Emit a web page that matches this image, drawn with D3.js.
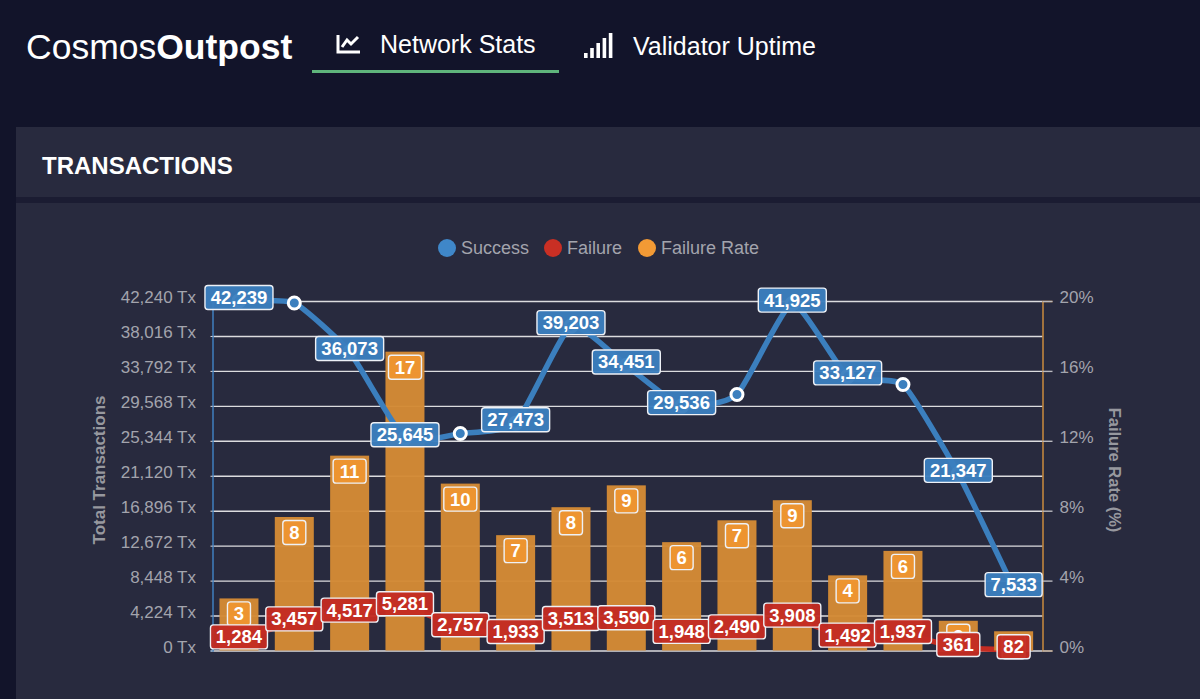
<!DOCTYPE html>
<html>
<head>
<meta charset="utf-8">
<title>Cosmos Outpost</title>
<script src="https://cdn.jsdelivr.net/npm/d3@7"></script>
<style>
  html, body { margin: 0; padding: 0; background: #12142a; overflow: hidden; }
  svg { display: block; font-family: "Liberation Sans", Arial, sans-serif; }
</style>
</head>
<body>
<script>
// values
var slots = d3.range(15);
var success = [42239, 41999, 36073, 25645, 26226, 27473, 39203, 34451, 29536, 30940, 41925, 33127, 32150, 21347, 7533];
var failure = [1284, 3457, 4517, 5281, 2757, 1933, 3513, 3590, 1948, 2490, 3908, 1492, 1937, 361, 82];
var failureRate = [2.98, 7.64, 11.15, 17.1, 9.55, 6.6, 8.2, 9.45, 6.2, 7.45, 8.6, 4.3, 5.7, 1.7, 1.1];
var hiddenLabels = [1, 4, 9, 12];   // these points have no label in the chart
var txTicks = [0, 4224, 8448, 12672, 16896, 21120, 25344, 29568, 33792, 38016, 42240];
var rateTicks = [0, 4, 8, 12, 16, 20];
var legendNames = ["Success", "Failure", "Failure Rate"];

var w = 1200, h = 699;
var left = 212.5, right = 1042.5, top_ = 301, bottom = 650.5;

var blue = "#3b7fbe", red = "#c42c22", orange = "#d48a35", orangeLabel = "#ee9530";

var svg = d3.select("body").append("svg")
  .attr("width", w)
  .attr("height", h);

// page panels
svg.append("rect").attr("width", w).attr("height", h).attr("fill", "#12142a");
svg.append("rect").attr("x", 16).attr("y", 127).attr("width", w - 16).attr("height", 70).attr("fill", "#282a3e");
svg.append("rect").attr("x", 16).attr("y", 197).attr("width", w - 16).attr("height", 6).attr("fill", "#1b1c32");
svg.append("rect").attr("x", 16).attr("y", 203).attr("width", w - 16).attr("height", h - 203).attr("fill", "#282a3e");

// header
var brand = svg.append("text").attr("x", 26).attr("y", 59)
  .attr("fill", "#fff").attr("font-size", 35.5);
brand.append("tspan").text("Cosmos");
brand.append("tspan").text("Outpost").attr("font-weight", "bold");

svg.append("text").text("Network Stats").attr("x", 380).attr("y", 53)
  .attr("fill", "#fff").attr("font-size", 25);
svg.append("text").text("Validator Uptime").attr("x", 633).attr("y", 55)
  .attr("fill", "#fff").attr("font-size", 25);
svg.append("rect").attr("x", 312).attr("y", 70).attr("width", 247).attr("height", 3).attr("fill", "#5fb57c");

// line icon
svg.append("path")
  .attr("d", "M338 35V52H360M342 47L347 40L351 44L358 37")
  .attr("fill", "none").attr("stroke", "#fff").attr("stroke-width", 3);

// bars icon
var iconBars = [5, 10, 15, 20, 25];
svg.selectAll("rect.icon").data(iconBars).enter().append("rect")
  .attr("class", "icon")
  .attr("x", function(d, i) { return 584 + i * 6.2; })
  .attr("y", function(d) { return 58 - d; })
  .attr("width", 3.6)
  .attr("height", function(d) { return d; })
  .attr("fill", "#fff");

svg.append("text").text("TRANSACTIONS").attr("x", 42).attr("y", 174)
  .attr("fill", "#fff").attr("font-size", 24).attr("font-weight", "bold");

// legend
var legendCircleX = [447, 553, 647];
var legendColors = ["#3f87c9", "#c92f24", "#f29a35"];
legendNames.forEach(function(name, i) {
  svg.append("circle").attr("cx", legendCircleX[i]).attr("cy", 248).attr("r", 9).attr("fill", legendColors[i]);
  svg.append("text").text(name).attr("x", legendCircleX[i] + 14).attr("y", 254)
    .attr("fill", "#a3a4ad").attr("font-size", 18);
});

// scales
var x = d3.scaleBand().domain(slots).range([211.3, 1041.3]).paddingInner(0.295).paddingOuter(0.1475);
var y = d3.scaleLinear().domain([0, 42240]).range([bottom, top_]);
var yRate = d3.scaleLinear().domain([0, 20]).range([bottom, top_]);
var cx = function(i) { return x(i) + x.bandwidth() / 2; };

// grid lines
var grid = svg.append("g")
  .attr("transform", "translate(" + left + ",0)")
  .call(d3.axisLeft(y).tickValues(txTicks).tickSize(-(right - left)).tickFormat(""));
grid.select(".domain").remove();
grid.selectAll("line").attr("stroke", "#dcdcdf").attr("stroke-width", 1.4);

// lines sit under the bars
var line = d3.line()
  .x(function(d, i) { return cx(i); })
  .y(function(d) { return y(d); })
  .curve(d3.curveCardinal.tension(0.5));

svg.append("path").datum(failure).attr("d", line)
  .attr("fill", "none").attr("stroke", red).attr("stroke-width", 5.5);

// bars
svg.selectAll("rect.bar")
  .data(failureRate)
  .enter()
  .append("rect")
  .attr("class", "bar")
  .attr("x", function(d, i) { return x(i); })
  .attr("y", function(d) { return yRate(d); })
  .attr("width", x.bandwidth())
  .attr("height", function(d) { return bottom - yRate(d); })
  .attr("fill", orange)
  .attr("fill-opacity", 0.97);

svg.append("path").datum(success).attr("d", line)
  .attr("fill", "none").attr("stroke", blue).attr("stroke-width", 5.5);

svg.selectAll("circle.pt")
  .data(success)
  .enter()
  .append("circle")
  .attr("class", "pt")
  .attr("cx", function(d, i) { return cx(i); })
  .attr("cy", function(d) { return y(d); })
  .attr("r", 6)
  .attr("fill", blue)
  .attr("stroke", "#fff")
  .attr("stroke-width", 3);

// axes
var yAxisL = svg.append("g")
  .attr("transform", "translate(" + left + ",0)")
  .call(d3.axisLeft(y).tickValues(txTicks).tickSize(2).tickPadding(14.5)
    .tickFormat(function(d) { return d3.format(",")(d) + " Tx"; }));
yAxisL.select(".domain").attr("stroke", "#3f7fbf").attr("stroke-width", 1.5);
yAxisL.selectAll("line").attr("stroke", "#dcdcdf");
yAxisL.selectAll("text").attr("fill", "#a3a4ad").attr("font-size", 17).attr("dy", "0.1em")
  .attr("font-family", '"Liberation Sans", Arial, sans-serif');

var yAxisR = svg.append("g")
  .attr("transform", "translate(" + right + ",0)")
  .call(d3.axisRight(yRate).tickValues(rateTicks).tickSize(10).tickPadding(7)
    .tickFormat(function(d) { return d + "%"; }));
yAxisR.select(".domain").attr("stroke", "#c98a3e").attr("stroke-width", 1.5);
yAxisR.selectAll("line").attr("stroke", "#b9b9bf").attr("stroke-width", 1.4);
yAxisR.selectAll("text").attr("fill", "#a3a4ad").attr("font-size", 17).attr("dy", "0.1em")
  .attr("font-family", '"Liberation Sans", Arial, sans-serif');

svg.append("text").text("Total Transactions")
  .attr("transform", "translate(105,470) rotate(-90)")
  .attr("text-anchor", "middle").attr("fill", "#97989f")
  .attr("font-size", 17).attr("font-weight", "bold");

svg.append("text").text("Failure Rate (%)")
  .attr("transform", "translate(1109,470) rotate(90)")
  .attr("text-anchor", "middle").attr("fill", "#97989f")
  .attr("font-size", 16.5).attr("font-weight", "bold");

// data labels
function label(px, py, txt, fill, bw) {
  var g = svg.append("g").attr("transform", "translate(" + px + "," + py + ")");
  g.append("rect")
    .attr("x", -bw / 2).attr("y", -12)
    .attr("width", bw).attr("height", 24)
    .attr("rx", 3)
    .attr("fill", fill)
    .attr("fill-opacity", 0.96)
    .attr("stroke", "#eef1f6")
    .attr("stroke-width", 1.4);
  g.append("text").text(txt)
    .attr("text-anchor", "middle")
    .attr("y", 6.5)
    .attr("fill", "#fff")
    .attr("font-size", 18.5)
    .attr("font-weight", "bold");
}

failureRate.forEach(function(d, i) {
  var t = Math.round(d);
  label(cx(i), yRate(d) + 15.5, t, orangeLabel, t > 9 ? 33 : 23);
});

failure.forEach(function(d, i) {
  var t = d3.format(",")(d);
  label(cx(i), y(d) - 3, t, red, t.length > 3 ? 57 : (t.length > 2 ? 43 : 33));
});

success.forEach(function(d, i) {
  if (hiddenLabels.indexOf(i) > -1) return;
  var t = d3.format(",")(d);
  label(cx(i), y(d) - 3.5, t, blue, t.length > 5 ? 68 : 57);
});
</script>
</body>
</html>
